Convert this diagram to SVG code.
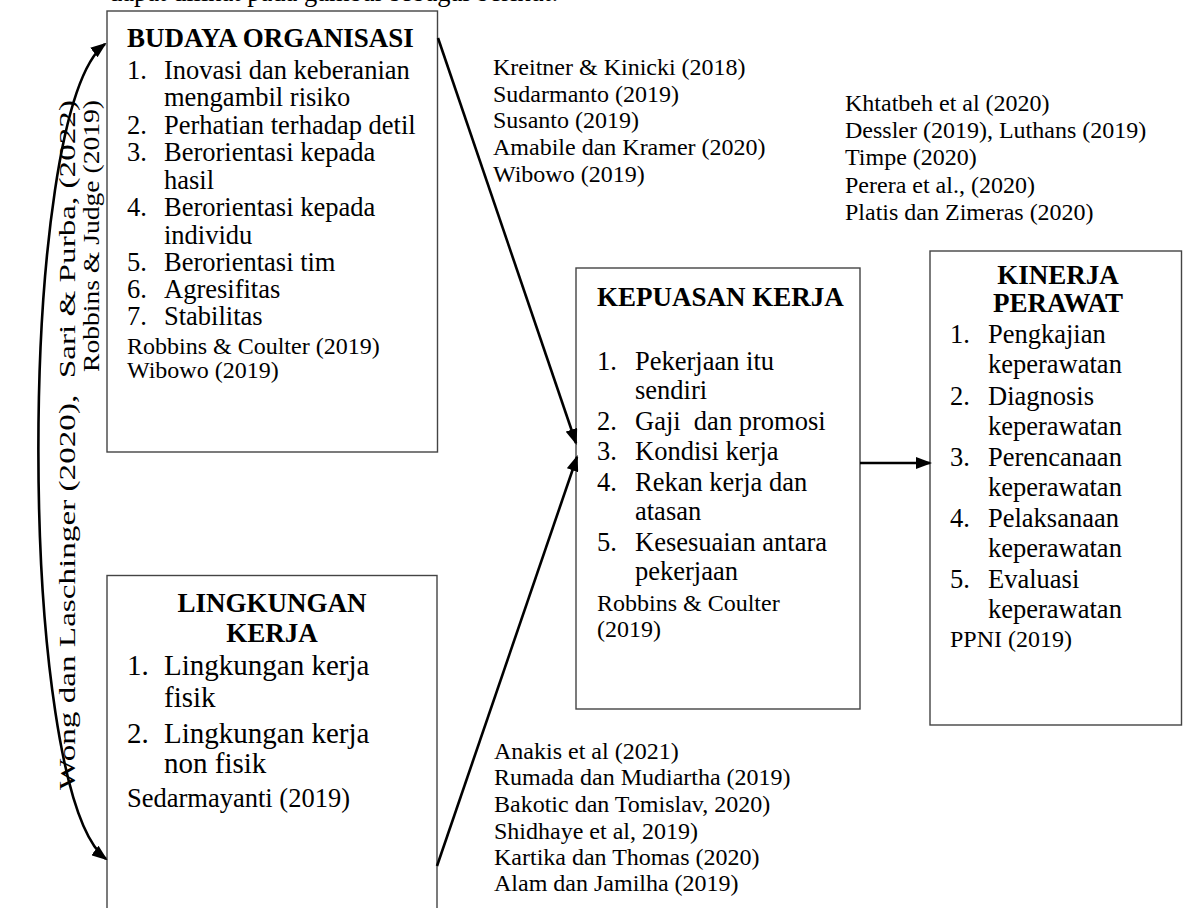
<svg xmlns="http://www.w3.org/2000/svg" width="1183" height="908" viewBox="0 0 1183 908">
<defs>
<style>
text{font-family:"Liberation Serif","Times New Roman",serif;fill:#000}
.box{fill:#fff;stroke:#444;stroke-width:1.4}
.h{font-size:27px;font-weight:bold}
.l{font-size:26.5px}
.lg{font-size:29px}
.r{font-size:24px}
.c{text-anchor:middle}
.conn{fill:none;stroke:#000;stroke-width:2.6}
</style>
<marker id="arrow" viewBox="0 0 16 12" refX="14" refY="6" markerWidth="16" markerHeight="12" markerUnits="userSpaceOnUse" orient="auto-start-reverse"><path d="M0,0 L16,6 L0,12 Z" fill="#000"/></marker>
</defs>
<rect width="1183" height="908" fill="#fff"/>
<text class="l" x="109" y="0.5">dapat dilihat pada gambar sebagai berikut:</text>

<g id="node-budaya-organisasi">
<rect class="box" x="107" y="11" width="330.5" height="441"/>
<text class="h" x="127" y="47">BUDAYA ORGANISASI</text>
<text class="l">
<tspan x="127" y="79">1.</tspan><tspan x="164" y="79">Inovasi dan keberanian</tspan>
<tspan x="164" y="106">mengambil risiko</tspan>
<tspan x="127" y="134">2.</tspan><tspan x="164" y="134">Perhatian terhadap detil</tspan>
<tspan x="127" y="161">3.</tspan><tspan x="164" y="161">Berorientasi kepada</tspan>
<tspan x="164" y="189">hasil</tspan>
<tspan x="127" y="216">4.</tspan><tspan x="164" y="216">Berorientasi kepada</tspan>
<tspan x="164" y="244">individu</tspan>
<tspan x="127" y="271">5.</tspan><tspan x="164" y="271">Berorientasi tim</tspan>
<tspan x="127" y="298">6.</tspan><tspan x="164" y="298">Agresifitas</tspan>
<tspan x="127" y="325">7.</tspan><tspan x="164" y="325">Stabilitas</tspan>
</text>
<text class="r"><tspan x="127" y="354">Robbins &amp; Coulter (2019)</tspan><tspan x="127" y="378">Wibowo (2019)</tspan></text>
</g>

<g id="node-lingkungan-kerja">
<rect class="box" x="107" y="575.5" width="330" height="345"/>
<text class="h c"><tspan x="272" y="612">LINGKUNGAN</tspan><tspan x="272" y="642">KERJA</tspan></text>
<text class="lg">
<tspan x="127" y="675">1.</tspan><tspan x="164" y="675">Lingkungan kerja</tspan>
<tspan x="164" y="707">fisik</tspan>
<tspan x="127" y="743">2.</tspan><tspan x="164" y="743">Lingkungan kerja</tspan>
<tspan x="164" y="773">non fisik</tspan>
</text>
<text class="l" x="127" y="807">Sedarmayanti (2019)</text>
</g>

<g id="node-kepuasan-kerja">
<rect class="box" x="576" y="268" width="284" height="441"/>
<text class="h" x="597" y="306">KEPUASAN KERJA</text>
<text class="l" xml:space="preserve"><tspan x="597" y="370">1.</tspan><tspan x="635" y="370">Pekerjaan itu</tspan><tspan x="635" y="399">sendiri</tspan><tspan x="597" y="430">2.</tspan><tspan x="635" y="430">Gaji  dan promosi</tspan><tspan x="597" y="460">3.</tspan><tspan x="635" y="460">Kondisi kerja</tspan><tspan x="597" y="491">4.</tspan><tspan x="635" y="491">Rekan kerja dan</tspan><tspan x="635" y="520">atasan</tspan><tspan x="597" y="551">5.</tspan><tspan x="635" y="551">Kesesuaian antara</tspan><tspan x="635" y="580">pekerjaan</tspan></text>
<text class="r"><tspan x="597" y="611">Robbins &amp; Coulter</tspan><tspan x="597" y="637">(2019)</tspan></text>
</g>

<g id="node-kinerja-perawat">
<rect class="box" x="930" y="251" width="251.5" height="474"/>
<text class="h c"><tspan x="1058" y="284">KINERJA</tspan><tspan x="1058" y="312">PERAWAT</tspan></text>
<text class="l">
<tspan x="950" y="343">1.</tspan><tspan x="988" y="343">Pengkajian</tspan>
<tspan x="988" y="373">keperawatan</tspan>
<tspan x="950" y="405">2.</tspan><tspan x="988" y="405">Diagnosis</tspan>
<tspan x="988" y="435">keperawatan</tspan>
<tspan x="950" y="466">3.</tspan><tspan x="988" y="466">Perencanaan</tspan>
<tspan x="988" y="496">keperawatan</tspan>
<tspan x="950" y="527">4.</tspan><tspan x="988" y="527">Pelaksanaan</tspan>
<tspan x="988" y="557">keperawatan</tspan>
<tspan x="950" y="588">5.</tspan><tspan x="988" y="588">Evaluasi</tspan>
<tspan x="988" y="618">keperawatan</tspan>
</text>
<text class="r" x="950" y="647">PPNI (2019)</text>
</g>

<g id="refs-budaya">
<text class="r"><tspan x="493" y="75">Kreitner &amp; Kinicki (2018)</tspan><tspan x="493" y="102">Sudarmanto (2019)</tspan><tspan x="493" y="128">Susanto (2019)</tspan><tspan x="493" y="155">Amabile dan Kramer (2020)</tspan><tspan x="493" y="182">Wibowo (2019)</tspan></text>
</g>
<g id="refs-kinerja">
<text class="r"><tspan x="845" y="111">Khtatbeh et al (2020)</tspan><tspan x="845" y="138">Dessler (2019), Luthans (2019)</tspan><tspan x="845" y="165">Timpe (2020)</tspan><tspan x="845" y="193">Perera et al., (2020)</tspan><tspan x="845" y="220">Platis dan Zimeras (2020)</tspan></text>
</g>
<g id="refs-lingkungan">
<text class="r"><tspan x="494" y="759">Anakis et al (2021)</tspan><tspan x="494" y="785">Rumada dan Mudiartha (2019)</tspan><tspan x="494" y="812">Bakotic dan Tomislav, 2020)</tspan><tspan x="494" y="839">Shidhaye et al, 2019)</tspan><tspan x="494" y="865">Kartika dan Thomas (2020)</tspan><tspan x="494" y="891">Alam dan Jamilha (2019)</tspan></text>
</g>
<g id="refs-korelasi">
<text class="r" transform="translate(75,790) rotate(-90)" x="0" y="0" textLength="690" lengthAdjust="spacingAndGlyphs" xml:space="preserve">Wong dan Laschinger (2020),  Sari &amp; Purba, (2022)</text>
<text class="r" transform="translate(99,372) rotate(-90)" x="0" y="0" textLength="272" lengthAdjust="spacingAndGlyphs">Robbins &amp; Judge (2019)</text>
</g>

<g id="connectors">
<path class="conn" d="M438,38 L576,443" marker-end="url(#arrow)"/>
<path class="conn" d="M437,866 L577,457" marker-end="url(#arrow)"/>
<path class="conn" d="M860,463 L930,463" marker-end="url(#arrow)"/>
<path class="conn" d="M105,44 C16,112 16,790 106,859" marker-start="url(#arrow)" marker-end="url(#arrow)"/>
</g>
</svg>
